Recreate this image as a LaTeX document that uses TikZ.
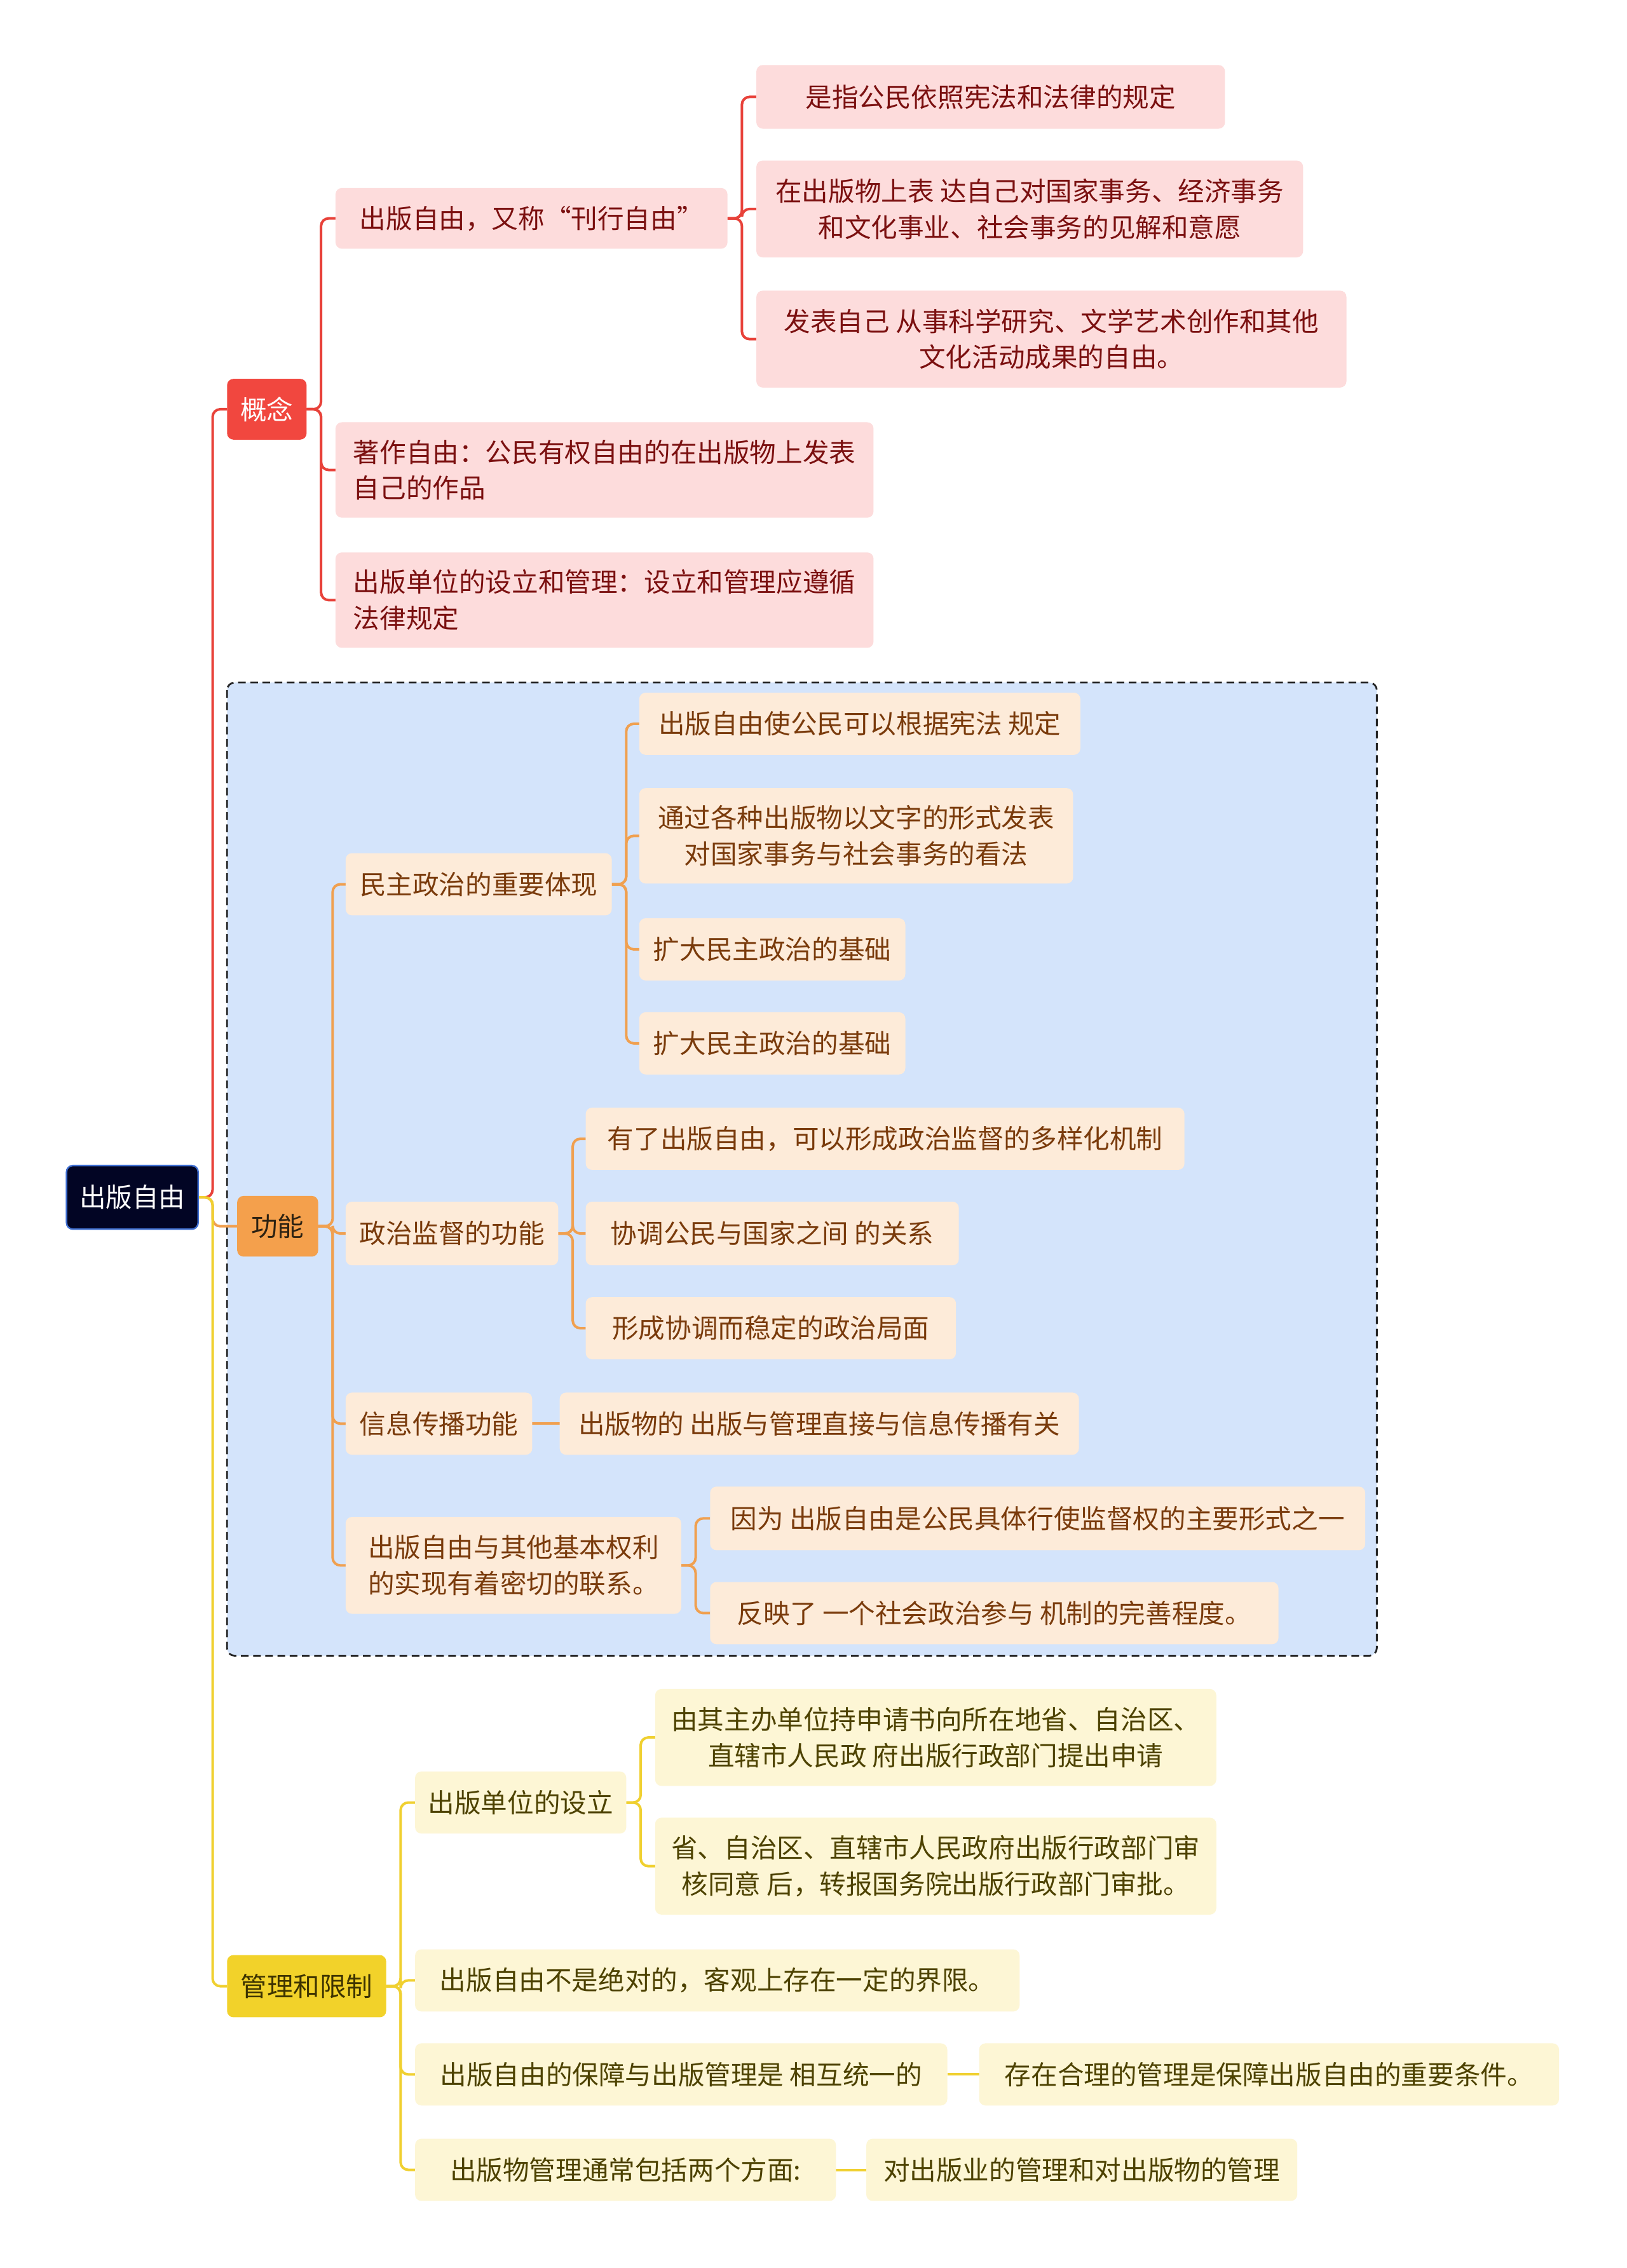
\documentclass[tikz,border=0pt]{standalone}
\usepackage{fontspec}
\setmainfont{Noto Sans CJK SC}
\pgfdeclarelayer{bg}
\pgfdeclarelayer{lines}
\pgfsetlayers{bg,lines,main}
\definecolor{rootfill}{HTML}{020524}
\definecolor{rootborder}{HTML}{3F6FD1}
\definecolor{redmain}{HTML}{F1473F}
\definecolor{redline}{HTML}{E8423A}
\definecolor{pinkfill}{HTML}{FDDCDC}
\definecolor{pinktext}{HTML}{7B1010}
\definecolor{orgmain}{HTML}{F4A04C}
\definecolor{orgline}{HTML}{F0A050}
\definecolor{orgfill}{HTML}{FDEBD9}
\definecolor{orgtext}{HTML}{7A3B0C}
\definecolor{orgdark}{HTML}{2D2212}
\definecolor{bluefill}{HTML}{D4E4FB}
\definecolor{ylwmain}{HTML}{F2D22A}
\definecolor{ylwline}{HTML}{F0D030}
\definecolor{ylwfill}{HTML}{FDF6D5}
\definecolor{ylwtext}{HTML}{4D4200}
\definecolor{ylwdark}{HTML}{3D3300}
\tikzset{
  box/.style={rounded corners=2.5pt, inner sep=0pt, outer sep=0pt,
    font=\fontsize{10.4pt}{14.2pt}\selectfont, align=center},
  rootbox/.style={box, fill=rootfill, draw=rootborder, line width=0.6pt, text=white},
  redbox/.style={box, fill=redmain, text=white},
  pinkbox/.style={box, fill=pinkfill, text=pinktext},
  pinkleft/.style={pinkbox, align=left},
  orgbox/.style={box, fill=orgmain, text=orgdark},
  peachbox/.style={box, fill=orgfill, text=orgtext},
  ylwbox/.style={box, fill=ylwmain, text=ylwdark},
  creambox/.style={box, fill=ylwfill, text=ylwtext},
  link/.style={line width=1pt, rounded corners=3pt},
  redlink/.style={link, draw=redline},
  orglink/.style={link, draw=orgline},
  ylwlink/.style={link, draw=ylwline},
  frame/.style={draw=black!85, fill=bluefill, line width=0.7pt,
    dash pattern=on 3pt off 1.8pt, rounded corners=3pt}
}
\newcommand\mmnode[7]{\node[#6, anchor=north west,
  minimum width={(#4-#2)*0.5689pt}, minimum height={(#5-#3)*0.5689pt}] (#1) at (#2,#3) {#7};}
\newcommand\mmconn[3]{\begin{pgfonlayer}{lines}\draw[#1] (#2.east) -- ++(10,0) |- (#3.west);\end{pgfonlayer}}
\newcommand\mmstraight[3]{\begin{pgfonlayer}{lines}\draw[#1] (#2.east) -- (#3.west);\end{pgfonlayer}}
\begin{document}
\begin{tikzpicture}[x=0.5689pt, y=-0.5689pt]
\useasboundingbox (0,0) rectangle (1125,1568.4);
\begin{pgfonlayer}{bg}
\fill[white] (0,0) rectangle (1125,1568.4);
\draw[frame] (157,472) rectangle (952,1145);
\end{pgfonlayer}
% root and main branches
\mmnode{root}{46}{806}{137}{850}{rootbox}{出版自由}
\mmnode{c1}{157}{262}{212}{304}{redbox}{概念}
\mmnode{c2}{164}{827}{220}{869}{orgbox}{功能}
\mmnode{c3}{157}{1352}{267}{1395}{ylwbox}{管理和限制}
% concept branch
\mmnode{p0}{232}{130}{503}{172}{pinkbox}{出版自由，又称“刊行自由”}
\mmnode{p1}{523}{45}{847}{89}{pinkbox}{是指公民依照宪法和法律的规定}
\mmnode{p2}{523}{111}{901}{178}{pinkbox}{在出版物上表 达自己对国家事务、经济事务\\和文化事业、社会事务的见解和意愿}
\mmnode{p3}{523}{201}{931}{268}{pinkbox}{发表自己 从事科学研究、文学艺术创作和其他\\文化活动成果的自由。}
\mmnode{p4}{232}{292}{604}{358}{pinkleft}{著作自由：公民有权自由的在出版物上发表\\自己的作品}
\mmnode{p5}{232}{382}{604}{448}{pinkleft}{出版单位的设立和管理：设立和管理应遵循\\法律规定}
% function branch
\mmnode{o1}{239}{590}{423}{633}{peachbox}{民主政治的重要体现}
\mmnode{o2}{239}{831}{386}{875}{peachbox}{政治监督的功能}
\mmnode{o3}{239}{963}{368}{1006}{peachbox}{信息传播功能}
\mmnode{o4}{239}{1049}{471}{1116}{peachbox}{出版自由与其他基本权利\\的实现有着密切的联系。}
\mmnode{o11}{442}{479}{747}{522}{peachbox}{出版自由使公民可以根据宪法 规定}
\mmnode{o12}{442}{545}{742}{611}{peachbox}{通过各种出版物以文字的形式发表\\对国家事务与社会事务的看法}
\mmnode{o13}{442}{635}{626}{678}{peachbox}{扩大民主政治的基础}
\mmnode{o14}{442}{700}{626}{743}{peachbox}{扩大民主政治的基础}
\mmnode{o21}{405}{766}{819}{809}{peachbox}{有了出版自由，可以形成政治监督的多样化机制}
\mmnode{o22}{405}{831}{663}{875}{peachbox}{协调公民与国家之间 的关系}
\mmnode{o23}{405}{897}{661}{940}{peachbox}{形成协调而稳定的政治局面}
\mmnode{o31}{387}{963}{746}{1006}{peachbox}{出版物的 出版与管理直接与信息传播有关}
\mmnode{o41}{491}{1028}{944}{1072}{peachbox}{因为 出版自由是公民具体行使监督权的主要形式之一}
\mmnode{o42}{491}{1094}{884}{1137}{peachbox}{反映了 一个社会政治参与 机制的完善程度。}
% management branch
\mmnode{y1}{287}{1225}{433}{1268}{creambox}{出版单位的设立}
\mmnode{y2}{287}{1348}{705}{1391}{creambox}{出版自由不是绝对的，客观上存在一定的界限。}
\mmnode{y3}{287}{1413}{655}{1456}{creambox}{出版自由的保障与出版管理是 相互统一的}
\mmnode{y4}{287}{1479}{578}{1522}{creambox}{出版物管理通常包括两个方面:}
\mmnode{y11}{453}{1168}{841}{1235}{creambox}{由其主办单位持申请书向所在地省、自治区、\\直辖市人民政 府出版行政部门提出申请}
\mmnode{y12}{453}{1257}{841}{1324}{creambox}{省、自治区、直辖市人民政府出版行政部门审\\核同意 后，转报国务院出版行政部门审批。}
\mmnode{y31}{677}{1413}{1078}{1456}{creambox}{存在合理的管理是保障出版自由的重要条件。}
\mmnode{y41}{599}{1479}{897}{1522}{creambox}{对出版业的管理和对出版物的管理}
% connectors
\mmconn{redlink}{root}{c1}
\mmconn{orglink}{root}{c2}
\mmconn{ylwlink}{root}{c3}
\mmconn{redlink}{c1}{p0}
\mmconn{redlink}{c1}{p4}
\mmconn{redlink}{c1}{p5}
\mmconn{redlink}{p0}{p1}
\mmconn{redlink}{p0}{p2}
\mmconn{redlink}{p0}{p3}
\mmconn{orglink}{c2}{o1}
\mmconn{orglink}{c2}{o2}
\mmconn{orglink}{c2}{o3}
\mmconn{orglink}{c2}{o4}
\mmconn{orglink}{o1}{o11}
\mmconn{orglink}{o1}{o12}
\mmconn{orglink}{o1}{o13}
\mmconn{orglink}{o1}{o14}
\mmconn{orglink}{o2}{o21}
\mmconn{orglink}{o2}{o22}
\mmconn{orglink}{o2}{o23}
\mmstraight{orglink}{o3}{o31}
\mmconn{orglink}{o4}{o41}
\mmconn{orglink}{o4}{o42}
\mmconn{ylwlink}{c3}{y1}
\mmconn{ylwlink}{c3}{y2}
\mmconn{ylwlink}{c3}{y3}
\mmconn{ylwlink}{c3}{y4}
\mmconn{ylwlink}{y1}{y11}
\mmconn{ylwlink}{y1}{y12}
\mmstraight{ylwlink}{y3}{y31}
\mmstraight{ylwlink}{y4}{y41}
\end{tikzpicture}
\end{document}
